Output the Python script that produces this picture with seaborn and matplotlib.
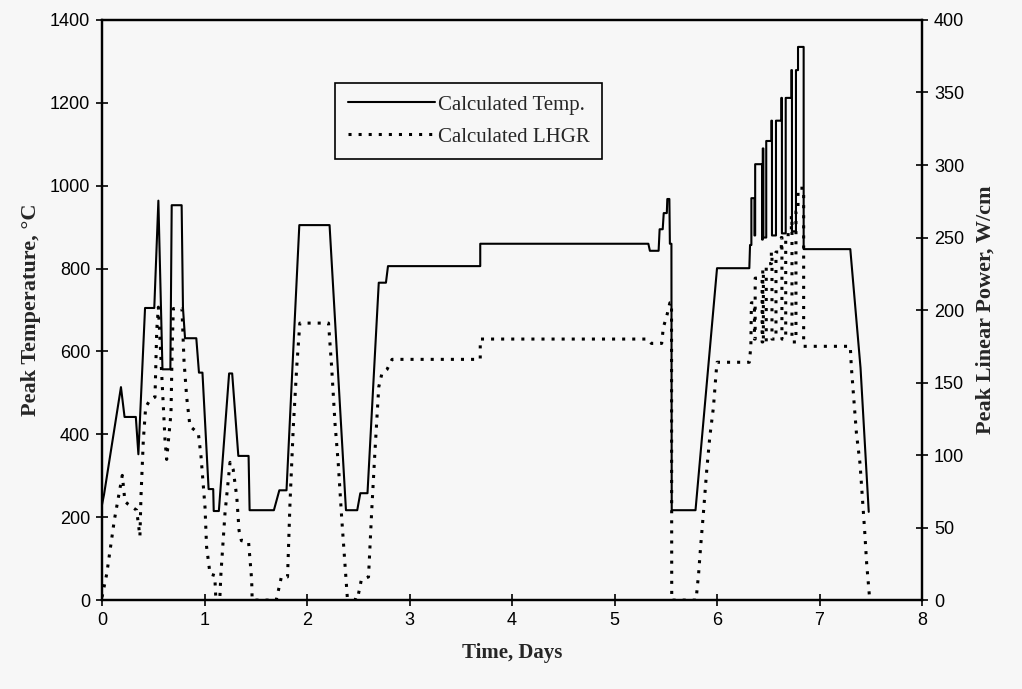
import matplotlib
matplotlib.use("Agg")
import matplotlib.pyplot as plt
from matplotlib.lines import Line2D
import seaborn as sns

# ---------------- data ----------------
temp_day = [0.0, 0.02, 0.185, 0.22, 0.33, 0.355, 0.42, 0.51, 0.55, 0.59,
            0.667, 0.68, 0.777, 0.79, 0.81, 0.92, 0.946, 0.98, 1.04, 1.085,
            1.09, 1.14, 1.24, 1.27, 1.33, 1.43, 1.44, 1.677, 1.73, 1.80,
            1.925, 2.22, 2.38, 2.49, 2.52, 2.59, 2.70, 2.77, 2.79, 3.69,
            3.69, 5.33, 5.345, 5.43, 5.44, 5.47, 5.48, 5.51, 5.515, 5.535,
            5.54, 5.555, 5.558, 5.79, 6.0, 6.315, 6.322,
            6.335, 6.335, 6.365, 6.365, 6.372, 6.372, 6.44, 6.44, 6.446,
            6.446, 6.452, 6.452, 6.48, 6.48, 6.53, 6.53, 6.536, 6.536, 6.575,
            6.575, 6.627, 6.627, 6.633, 6.633, 6.67, 6.67, 6.725, 6.725, 6.731,
            6.731, 6.77, 6.77, 6.79, 6.79, 6.845, 6.845, 7.30, 7.40, 7.48]
temp_val = [230, 255, 514, 442, 442, 352, 705, 705, 964, 557,
            557, 953, 953, 705, 632, 632, 549, 549, 268, 268,
            215, 215, 547, 547, 348, 348, 217, 217, 265, 265,
            905, 905, 217, 217, 258, 258, 766, 766, 806, 806,
            860, 860, 843, 843, 895, 895, 934, 934, 968, 968,
            860, 860, 217, 217, 801, 801, 857,
            857, 970, 970, 880, 880, 1052, 1052, 870, 870,
            1090, 1090, 875, 875, 1108, 1108, 1157, 1157, 880, 880,
            1157, 1157, 1212, 1212, 885, 885, 1212, 1212, 1279, 1279,
            890, 890, 1279, 1279, 1335, 1335, 847, 847, 560, 213]

lhgr_day = [0.0, 0.046, 0.078, 0.12, 0.16, 0.198, 0.224, 0.257, 0.338, 0.37,
            0.38, 0.403, 0.426, 0.468, 0.517, 0.534, 0.55, 0.582, 0.615, 0.631,
            0.673, 0.685, 0.696, 0.78, 0.80, 0.826, 0.858, 0.89, 0.94, 0.966,
            1.005, 1.02, 1.054, 1.10, 1.11, 1.15, 1.16, 1.20, 1.249, 1.28,
            1.315, 1.337, 1.36, 1.43, 1.46, 1.465, 1.70, 1.75, 1.81, 1.834,
            1.866, 1.90, 1.93, 2.21, 2.24, 2.273, 2.305, 2.338, 2.37, 2.393,
            2.49, 2.53, 2.60, 2.63, 2.66, 2.70, 2.73, 2.78, 2.83, 3.69,
            3.69, 5.33, 5.36, 5.46, 5.476, 5.51, 5.54, 5.556, 5.558, 5.795,
            5.82, 5.84, 5.867, 5.90, 5.93, 5.965, 5.99, 6.0, 6.315, 6.33,
            6.335, 6.365, 6.365, 6.372, 6.372, 6.44, 6.44, 6.446, 6.446, 6.452,
            6.452, 6.48, 6.48, 6.53, 6.53, 6.536, 6.536, 6.575, 6.575, 6.627,
            6.627, 6.633, 6.633, 6.67, 6.67, 6.725, 6.725, 6.731, 6.731, 6.77,
            6.77, 6.79, 6.79, 6.845, 6.845, 7.30, 7.31, 7.34, 7.36, 7.395,
            7.42, 7.44, 7.46, 7.49]
lhgr_val = [2, 18, 34, 55, 71, 86, 68, 66, 62, 44,
            71, 110, 133, 138, 140, 186, 202, 156, 110, 97,
            129, 175, 201, 201, 165, 140, 120, 118, 115, 99,
            64, 37, 18, 17, 2, 2, 18, 60, 95, 90,
            71, 48, 41, 40, 14, 0, 0, 16, 16, 67,
            119, 161, 191, 191, 161, 122, 94, 57, 25, 2,
            0, 14, 16, 60, 99, 147, 156, 159, 166, 166,
            180, 180, 177, 177, 188, 196, 205, 205, 0, 0,
            18, 37, 60, 90, 113, 133, 156, 164, 164, 175,
            205, 205, 180, 180, 222, 222, 178, 178, 228, 228,
            178, 178, 232, 232, 240, 240, 180, 180, 240, 240,
            250, 250, 180, 180, 252, 252, 265, 265, 178, 178,
            268, 268, 284, 284, 175, 175, 161, 133, 115, 94,
            69, 48, 25, 0]

x_ticks = [0, 1, 2, 3, 4, 5, 6, 7, 8]
temp_ticks = [0, 200, 400, 600, 800, 1000, 1200, 1400]
lhgr_ticks = [0, 50, 100, 150, 200, 250, 300, 350, 400]

assert len(temp_day) == len(temp_val)
assert len(lhgr_day) == len(lhgr_val)

# ---------------- style ----------------
sns.set_style("ticks")
bg = "#f7f7f7"
plt.rcParams["font.family"] = ["Liberation Sans", "DejaVu Sans"]
serif = ["Liberation Serif", "DejaVu Serif"]
dots = (0, (1.0, 2.3))

fig = plt.figure(figsize=(10.22, 6.89), dpi=100, facecolor=bg)
ax = fig.add_axes([0.0998, 0.129, 0.8024, 0.842])
ax.set_facecolor(bg)

sns.lineplot(x=temp_day, y=temp_val, ax=ax, estimator=None, sort=False,
             color="black", linewidth=1.5)
ax2 = ax.twinx()
sns.lineplot(x=lhgr_day, y=lhgr_val, ax=ax2, estimator=None, sort=False,
             color="black", linewidth=2.2, linestyle=dots)

ax.set_xlim(0, 8)
ax.set_ylim(0, 1400)
ax2.set_ylim(0, 400)
ax.set_xticks(x_ticks)
ax.set_yticks(temp_ticks)
ax2.set_yticks(lhgr_ticks)

for a in (ax, ax2):
    a.tick_params(direction="inout", length=9, width=1.2, labelsize=13,
                  colors="black", pad=4)
    for s in a.spines.values():
        s.set_linewidth(1.6)
        s.set_color("black")
        s.set_visible(True)

ax.set_xlabel("Time, Days", fontsize=15, fontweight="bold", family=serif,
              labelpad=10)
ax.set_ylabel("Peak Temperature, °C", fontsize=16, fontweight="bold",
              family=serif, labelpad=6)
ax2.set_ylabel("Peak Linear Power, W/cm", fontsize=16, fontweight="bold",
               family=serif, labelpad=8)

handles = [Line2D([], [], color="black", lw=1.5),
           Line2D([], [], color="black", lw=2.2, linestyle=dots)]
leg = ax2.legend(handles, ["Calculated Temp.", "Calculated LHGR"],
                 loc="upper left", bbox_to_anchor=(0.272, 0.91),
                 frameon=True, fancybox=False, framealpha=1,
                 edgecolor="black", facecolor=bg, handlelength=4.2,
                 handletextpad=0.1, borderpad=0.6, labelspacing=0.6,
                 prop={"family": serif, "size": 15})
leg.get_frame().set_linewidth(1.2)

fig.savefig("out.png", dpi=100, facecolor=bg)
